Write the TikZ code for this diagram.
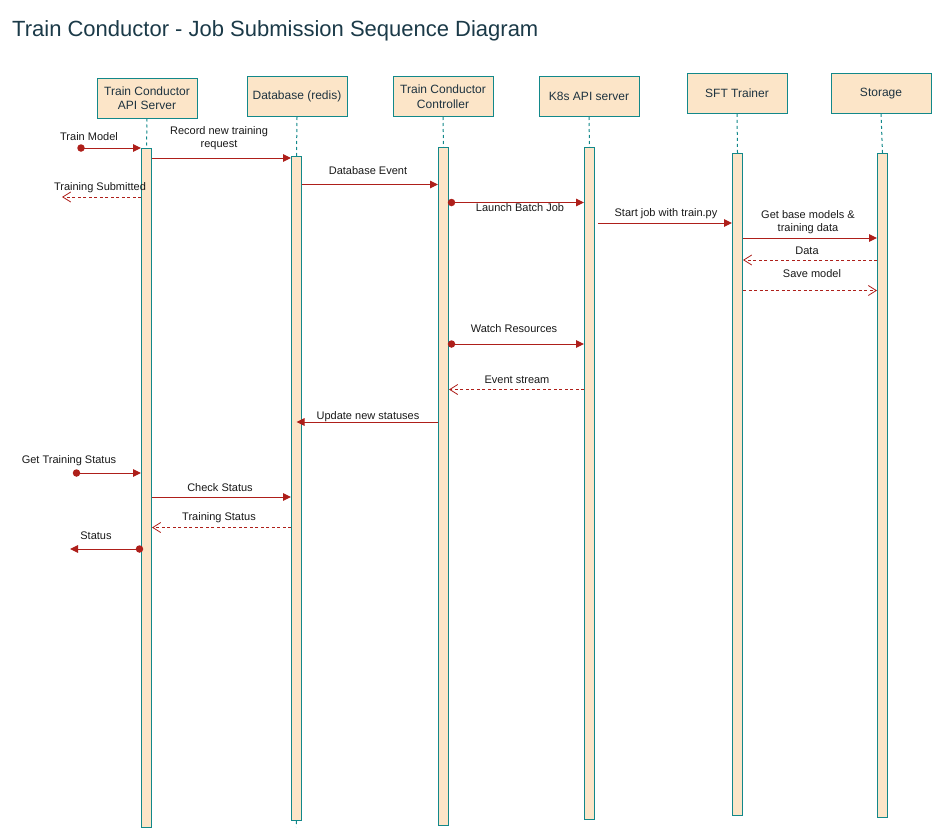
\documentclass[tikz,border=0pt]{standalone}
\usepackage{fontspec}
\setmainfont{Liberation Sans}
\usetikzlibrary{arrows.meta}
\definecolor{lifeteal}{HTML}{12888A}
\definecolor{boxfill}{HTML}{FCE5C8}
\definecolor{msgred}{HTML}{AE1F1A}
\definecolor{titlecol}{HTML}{1B3A48}
\definecolor{headtext}{HTML}{1E3340}
\begin{document}
\begin{tikzpicture}[x=1pt,y=-1pt,
  head/.style={draw=lifeteal, fill=boxfill, line width=1pt, minimum width=100pt, minimum height=40pt, inner sep=0pt, align=center, font=\fontsize{12}{14.5}\selectfont, text=headtext},
  bar/.style={draw=lifeteal, fill=boxfill, line width=1pt, minimum width=10pt, inner sep=0pt, anchor=north west},
  life/.style={draw=lifeteal, line width=1pt, dash pattern=on 3pt off 3pt},
  msg/.style={draw=msgred, line width=1pt, -{Triangle[length=8pt,width=7.5pt]}},
  ret/.style={draw=msgred, line width=0.8pt, dash pattern=on 3pt off 2.5pt, -{Straight Barb[length=8pt,width=10pt,line width=0.8pt]}},
  lbl/.style={font=\fontsize{11}{13}\selectfont, align=center, inner sep=0pt, text=black!90},
  dotn/.style={circle, fill=msgred, minimum size=7.5pt, inner sep=0pt}
]
\useasboundingbox (0,0) rectangle (942,838);
\fill[white] (0,0) rectangle (942,838);

\node[anchor=west, font=\fontsize{22}{26}\selectfont, text=titlecol, inner sep=0pt] (title) at (12,31) {Train Conductor - Job Submission Sequence Diagram};

% headers
\node[head] (apihead) at (147,98) {Train Conductor\\API Server};
\node[head] (dbhead) at (297,96.5) {Database (redis)};
\node[head] (ctrlhead) at (443,96.5) {Train Conductor\\Controller};
\node[head] (k8shead) at (589,96.5) {K8s API server};
\node[head] (sfthead) at (737,93.3) {SFT Trainer};
\node[head] (storhead) at (881,93.3) {Storage};

% activation bars
\node[bar, minimum height=679pt] (apibar) at (141,148) {};
\node[bar, minimum height=664pt] (dbbar) at (291,156) {};
\node[bar, minimum height=678pt] (ctrlbar) at (438,147) {};
\node[bar, minimum height=672pt] (k8sbar) at (584,147) {};
\node[bar, minimum height=662pt] (sftbar) at (732,153) {};
\node[bar, minimum height=664pt] (storbar) at (877,153) {};

% lifelines
\draw[life] (apihead.south) -- (apibar.north);
\draw[life] (dbhead.south) -- (dbbar.north);
\draw[life] (ctrlhead.south) -- (ctrlbar.north);
\draw[life] (k8shead.south) -- (k8sbar.north);
\draw[life] (sfthead.south) -- (sftbar.north);
\draw[life] (storhead.south) -- (storbar.north);
\coordinate (dbend) at (296,827);
\draw[life] (dbbar.south) -- (dbend);

% message rows
\coordinate (y2) at (0,158);
\coordinate (y4) at (0,184.5);
\coordinate (y6) at (0,223);
\coordinate (y7) at (0,238);
\coordinate (y8) at (0,260);
\coordinate (y9) at (0,290.5);
\coordinate (y11) at (0,389.5);
\coordinate (y12) at (0,422);
\coordinate (y14) at (0,497);
\coordinate (y15) at (0,527.5);

% 1 Train Model
\node[dotn] (d1) at (81,148) {};
\draw[msg] (d1.center) -- (d1 -| apibar.west);
\node[lbl] at (89,136.5) {Train Model};

% 2 Record new training request
\draw[msg] (apibar.east |- y2) -- (dbbar.west |- y2);
\node[lbl] at (219,138.5) {Record new training\\request};

% 3 Training Submitted
\coordinate (t3) at (62,197);
\draw[ret] (apibar.west |- t3) -- (t3);
\node[lbl] at (100,188) {Training Submitted};

% 4 Database Event
\draw[msg] (dbbar.east |- y4) -- (ctrlbar.west |- y4);
\node[lbl] at (368,171) {Database Event};

% 5 Launch Batch Job
\node[dotn] (d5) at (451.5,202.5) {};
\draw[msg] (d5.center) -- (d5 -| k8sbar.west);
\node[lbl] at (520,208) {Launch Batch Job};

% 6 Start job with train.py
\draw[msg] ([xshift=3pt]k8sbar.east |- y6) -- (sftbar.west |- y6);
\node[lbl] at (666,214) {Start job with train.py};

% 7 Get base models & training data
\draw[msg] (sftbar.east |- y7) -- (storbar.west |- y7);
\node[lbl] at (808,222.5) {Get base models \&\\training data};

% 8 Data
\draw[ret] (storbar.west |- y8) -- (sftbar.east |- y8);
\node[lbl] at (807,251) {Data};

% 9 Save model
\draw[ret] (sftbar.east |- y9) -- (storbar.west |- y9);
\node[lbl] at (812,274) {Save model};

% 10 Watch Resources
\node[dotn] (d10) at (451.5,344) {};
\draw[msg] (d10.center) -- (d10 -| k8sbar.west);
\node[lbl] at (514,329) {Watch Resources};

% 11 Event stream
\draw[ret] (k8sbar.west |- y11) -- (ctrlbar.east |- y11);
\node[lbl] at (517,380) {Event stream};

% 12 Update new statuses
\draw[msg] (ctrlbar.west |- y12) -- (dbbar.center |- y12);
\node[lbl] at (368,417) {Update new statuses};

% 13 Get Training Status
\node[dotn] (d13) at (76.5,473) {};
\draw[msg] (d13.center) -- (d13 -| apibar.west);
\node[lbl] at (69,461) {Get Training Status};

% 14 Check Status
\draw[msg] (apibar.east |- y14) -- (dbbar.west |- y14);
\node[lbl] at (220,488) {Check Status};

% 15 Training Status
\draw[ret] (dbbar.west |- y15) -- (apibar.east |- y15);
\node[lbl] at (219,518) {Training Status};

% 16 Status
\node[dotn] (d16) at (139.5,549) {};
\coordinate (t16) at (70,549);
\draw[msg] (d16.center) -- (t16);
\node[lbl] at (96,536) {Status};
\end{tikzpicture}
\end{document}
